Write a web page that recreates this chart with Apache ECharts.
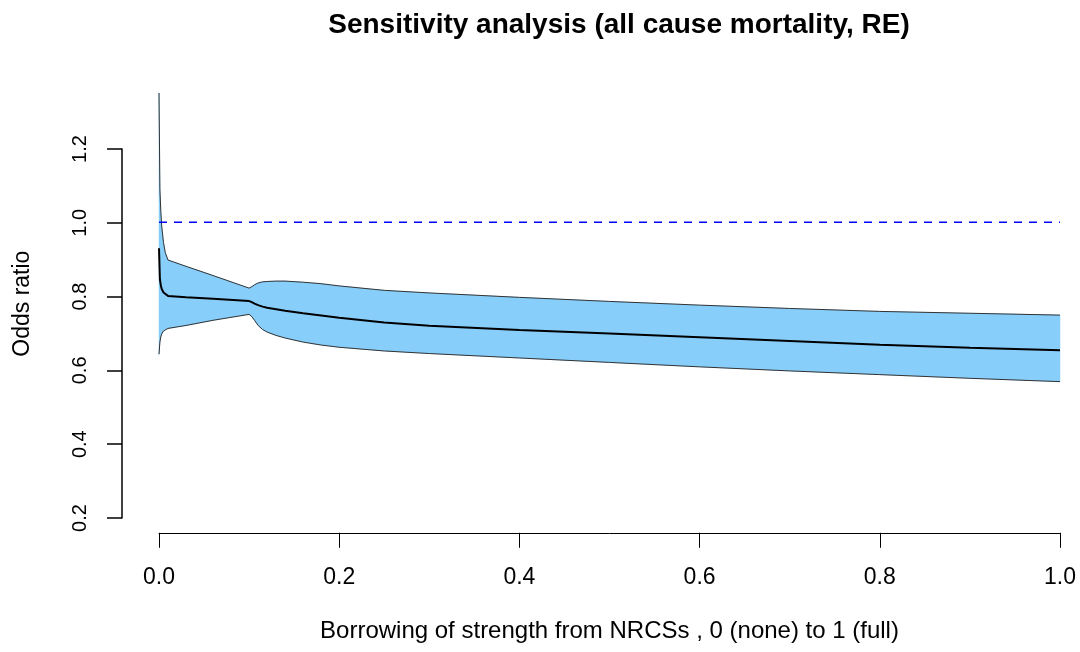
<!DOCTYPE html>
<html>
<head>
<meta charset="utf-8">
<script src="https://cdn.jsdelivr.net/npm/echarts@6/dist/echarts.min.js"></script>
<style>
html,body{margin:0;padding:0;background:#fff;}
#chart{width:1080px;height:652px;}
</style>
</head>
<body>
<div id="chart"></div>
<script>
// Borrowing of strength (x) and odds ratio estimates
var xs =    [0, 0.001, 0.002, 0.003, 0.005, 0.007, 0.01, 0.03, 0.06, 0.1, 0.103, 0.106, 0.11, 0.115, 0.12, 0.13, 0.14, 0.16, 0.18, 0.2, 0.25, 0.3, 0.4, 0.5, 0.6, 0.7, 0.8, 0.9, 1.0];
var upper = [1.35, 1.09, 1.03, 0.99, 0.945, 0.918, 0.898, 0.881, 0.856, 0.822, 0.826, 0.831, 0.836, 0.839, 0.840, 0.841, 0.841, 0.838, 0.834, 0.828, 0.816, 0.809, 0.797, 0.786, 0.776, 0.767, 0.759, 0.754, 0.749];
var mid =   [0.93, 0.846, 0.83, 0.82, 0.81, 0.805, 0.801, 0.797, 0.793, 0.787, 0.784, 0.780, 0.776, 0.772, 0.769, 0.765, 0.761, 0.754, 0.748, 0.742, 0.729, 0.720, 0.709, 0.699, 0.689, 0.679, 0.669, 0.661, 0.654];
var lower = [0.643, 0.676, 0.690, 0.698, 0.706, 0.710, 0.713, 0.721, 0.735, 0.751, 0.745, 0.735, 0.721, 0.710, 0.703, 0.694, 0.687, 0.676, 0.668, 0.662, 0.652, 0.645, 0.633, 0.621, 0.609, 0.598, 0.588, 0.578, 0.569];
var refX = [0, 1];
var refY = [1, 1];

var titleText = 'Sensitivity analysis (all cause mortality, RE)';
var xName = 'Borrowing of strength from NRCSs , 0 (none) to 1 (full)';
var yName = 'Odds ratio';

var FONT = '"Liberation Sans", Arial, Helvetica, sans-serif';

function pairs(a, b) { return a.map(function (v, i) { return [v, b[i]]; }); }
var bandData = xs.map(function (x, i) { return [x, lower[i], upper[i]]; });
var lowerData = pairs(xs, lower);
var upperData = pairs(xs, upper);
var midData = pairs(xs, mid);
var refData = pairs(refX, refY);

function renderBand(params, api) {
  if (params.dataIndex !== 0) return null;
  var pts = [];
  for (var i = 0; i < xs.length; i++) pts.push(api.coord([xs[i], upper[i]]));
  for (var j = xs.length - 1; j >= 0; j--) pts.push(api.coord([xs[j], lower[j]]));
  return {
    type: 'polygon',
    shape: {points: pts},
    style: {fill: '#87CEFA', stroke: '#87CEFA', lineWidth: 0.5}
  };
}

var chart = echarts.init(document.getElementById('chart'), null, {renderer: 'canvas'});
chart.setOption({
  backgroundColor: '#ffffff',
  animation: false,
  title: {
    text: titleText,
    left: 614, textAlign: 'center', top: 6,
    textStyle: {fontFamily: FONT, fontSize: 28, fontWeight: 'bold', color: '#000'}
  },
  grid: [
    {left: 159, right: 20, top: 74.5, bottom: 119.2},
    {left: 122, width: 10, top: 149, bottom: 134}
  ],
  xAxis: [
    {
      gridIndex: 0, type: 'value', min: 0, max: 1, interval: 0.2,
      position: 'bottom',
      name: xName, nameLocation: 'middle', nameGap: 87,
      nameTextStyle: {fontFamily: FONT, fontSize: 24, color: '#000'},
      axisLine: {show: true, lineStyle: {color: '#000', width: 1}},
      axisTick: {show: true, inside: false, length: 15, lineStyle: {color: '#000', width: 1}},
      axisLabel: {show: true, margin: 33, fontFamily: FONT, fontSize: 23, color: '#000',
        formatter: function (v) { return v.toFixed(1); }},
      splitLine: {show: false}
    },
    {gridIndex: 1, type: 'value', min: 0, max: 1, show: false}
  ],
  yAxis: [
    {
      gridIndex: 0, type: 'value', min: 0.16, max: 1.4,
      name: yName, nameLocation: 'middle', nameRotate: 90, nameGap: 125,
      nameTextStyle: {fontFamily: FONT, fontSize: 23, color: '#000'},
      axisLine: {show: false}, axisTick: {show: false}, axisLabel: {show: false},
      splitLine: {show: false}
    },
    {
      gridIndex: 1, type: 'value', min: 0.2, max: 1.2, interval: 0.2, position: 'left',
      axisLine: {show: true, lineStyle: {color: '#000', width: 1.5}},
      axisTick: {show: true, inside: false, length: 15, lineStyle: {color: '#000', width: 1.5}},
      axisLabel: {show: true, rotate: 90, margin: 32, fontFamily: FONT, fontSize: 20, color: '#000',
        formatter: function (v) { return v.toFixed(1); }},
      splitLine: {show: false}
    }
  ],
  series: [
    {
      name: 'band', type: 'custom', xAxisIndex: 0, yAxisIndex: 0,
      data: bandData, encode: {x: 0, y: [1, 2]},
      renderItem: renderBand, z: 1, silent: true
    },
    {
      name: 'upper', type: 'line', xAxisIndex: 0, yAxisIndex: 0,
      data: upperData, showSymbol: false, symbol: 'none',
      lineStyle: {color: '#333', width: 1}, z: 3
    },
    {
      name: 'lower', type: 'line', xAxisIndex: 0, yAxisIndex: 0,
      data: lowerData, showSymbol: false, symbol: 'none',
      lineStyle: {color: '#333', width: 1}, z: 3
    },
    {
      name: 'estimate', type: 'line', xAxisIndex: 0, yAxisIndex: 0,
      data: midData, showSymbol: false, symbol: 'none',
      lineStyle: {color: '#000', width: 2}, z: 4
    },
    {
      name: 'reference', type: 'line', xAxisIndex: 0, yAxisIndex: 0,
      data: refData, showSymbol: false, symbol: 'none',
      lineStyle: {color: '#0000FF', width: 1.5, type: [8, 7]}, z: 5
    }
  ]
});
</script>
</body>
</html>
